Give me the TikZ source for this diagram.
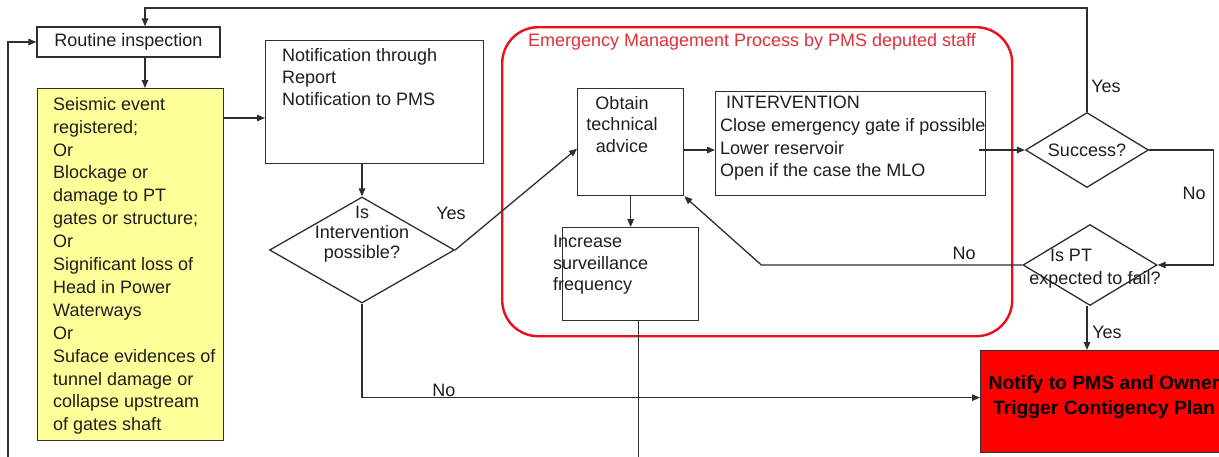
\documentclass[tikz,border=0pt]{standalone}
\usepackage{fontspec}
\setmainfont{Liberation Sans}
\usetikzlibrary{arrows.meta,shapes.geometric,calc}
\definecolor{linec}{HTML}{2E2E2E}
\definecolor{textc}{HTML}{1E1E1E}
\definecolor{yellowc}{HTML}{FFFF99}
\definecolor{emred}{HTML}{E8101A}
\definecolor{titlered}{HTML}{E0303A}
\definecolor{notred}{HTML}{FF0000}
\begin{document}
\begin{tikzpicture}[x=1pt,y=-1pt,
  ln/.style={draw=linec, line width=1.3pt},
  arr/.style={ln, -{Triangle[length=8pt,width=6.5pt]}},
  box/.style={draw=linec, line width=1.3pt, rectangle, inner sep=0pt},
  dia/.style={draw=linec, line width=1.3pt, diamond, inner sep=0pt},
  txt/.style={font=\fontsize{18}{22.5}\selectfont, inner sep=0pt, text=textc},
  lbl/.style={font=\fontsize{18}{22}\selectfont, inner sep=0pt, text=textc}]
\clip (0,0) rectangle (1219,456);
\fill[white] (0,0) rectangle (1219,456);
% container
\node[draw=emred, line width=2.4pt, rounded corners=36pt, minimum width=510pt, minimum height=309pt, anchor=north west, inner sep=0pt] (emp) at (501,26) {};
\node[font=\fontsize{18}{21}\selectfont, text=titlered, inner sep=0pt] (title) at (752,42) {Emergency Management Process by PMS deputed staff};
% boxes
\node[box, txt, minimum width=183pt, minimum height=30pt] (ri) at (128.5,42) {Routine inspection};
\node[box, fill=yellowc, minimum width=186pt, minimum height=352pt, anchor=north west] (ev) at (37,88) {};
\node[txt, font=\fontsize{18}{22.9}\selectfont, anchor=north west, align=left] (evt) at (53,97) {Seismic event\\registered;\\Or\\Blockage or\\damage to PT\\gates or structure;\\Or\\Significant loss of\\Head in Power\\Waterways\\Or\\Suface evidences of\\tunnel damage or\\collapse upstream\\of gates shaft};
\node[box, minimum width=218pt, minimum height=123pt, anchor=north west] (nf) at (265,40) {};
\node[txt, font=\fontsize{18}{22}\selectfont, anchor=north west, align=left] (nft) at (282,48) {Notification through\\Report\\Notification to PMS};
\node[dia, minimum width=185pt, minimum height=106pt] (d1) at (362,250) {};
\node[txt, font=\fontsize{18}{20}\selectfont, anchor=north, align=center] (d1t) at (362,206) {Is\\Intervention\\possible?};
\node[box, minimum width=106pt, minimum height=107pt, anchor=north west] (ob) at (577,88) {};
\node[txt, font=\fontsize{18}{21.5}\selectfont, anchor=north, align=center] (obt) at (622,96) {Obtain\\technical\\advice};
\node[box, minimum width=270pt, minimum height=104pt, anchor=north west] (iv) at (715,91) {};
\node[txt, font=\fontsize{18}{22.7}\selectfont, anchor=north west, align=left] (ivt) at (720,96) {\hspace*{6pt}INTERVENTION\\Close emergency gate if possible\\Lower reservoir\\Open if the case the MLO};
\node[box, minimum width=136pt, minimum height=93pt, anchor=north west] (inc) at (562,227) {};
\node[txt, font=\fontsize{18}{21.5}\selectfont, anchor=north west, align=left] (inct) at (553,235) {Increase\\surveillance\\frequency};
\node[dia, minimum width=123pt, minimum height=75pt] (s) at (1087,150) {};
\node[txt] (st) at (1087,150) {Success?};
\node[dia, minimum width=134pt, minimum height=81pt] (pt) at (1090,265) {};
\node[txt] (pt1) at (1071,255) {Is PT};
\node[txt] (pt2) at (1095,280) {expected to fail?};
\node[draw=linec, line width=1.3pt, fill=notred, minimum width=248pt, minimum height=102pt, anchor=north west, inner sep=0pt] (nt) at (980,350) {};
\node[font=\fontsize{19.3}{25}\selectfont\bfseries, text=black, align=center, inner sep=0pt] (ntt) at (1104,397) {Notify to PMS and Owner\\Trigger Contigency Plan};
% connectors
\coordinate (topy) at (0,8);
\coordinate (lb) at (8,470);
\draw[arr] (lb) |- (ri.west);
\draw[arr] ([xshift=16.5pt]ri.south) -- ([xshift=16.5pt]ri.south |- ev.north);
\draw[arr] (ev.east |- 0,118) -- (nf.west |- 0,118);
\draw[arr] (d1.north |- nf.south) -- (d1.north);
\draw[arr] (d1.east) -- ([yshift=-6.5pt]ob.west);
\draw[arr] (d1.south) |- ([yshift=4pt]nt.west);
\draw[arr] (ob.east |- 0,150) -- (iv.west |- 0,150);
\draw[arr] ([xshift=-7pt]iv.east |- s.west) -- (s.west);
\draw[arr] (s.north) -- (s.north |- topy) -| ([xshift=16.5pt]ri.north);
\draw[arr] (s.east) -- ++(64,0) |- (pt.east);
\draw[arr] (pt.west) -- ++(-261,0) -- (ob.south east);
\draw[arr] (pt.south -| s.south) -- (s.south |- nt.north);
\draw[arr] (ob.south) -- (inc.north);
\draw[ln] ([xshift=8pt]inc.south) -- ++(0,150);
% labels
\node[lbl] (l1) at (451,213) {Yes};
\node[lbl] (l2) at (444,390) {No};
\node[lbl] (l3) at (1106,86) {Yes};
\node[lbl] (l4) at (1194,193) {No};
\node[lbl] (l5) at (964,253) {No};
\node[lbl] (l6) at (1107,332) {Yes};
\end{tikzpicture}
\end{document}
